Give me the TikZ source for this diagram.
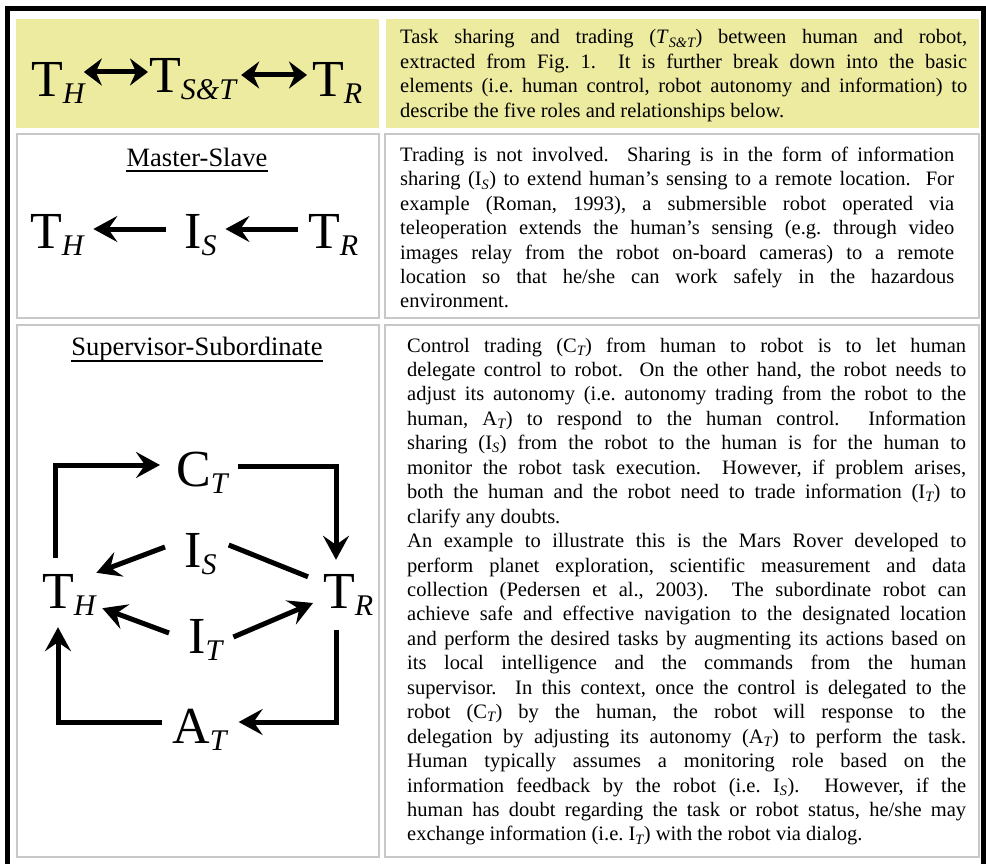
\documentclass[tikz,border=0pt]{standalone}
\usepackage{fontspec}
\setmainfont{Liberation Serif}
\usetikzlibrary{arrows.meta,calc}
\definecolor{cellyellow}{RGB}{237,235,160}
\definecolor{cellgray}{RGB}{200,200,200}
\frenchspacing
\newdimen\linew
\newcommand\lineJ[1]{\hbox to \linew{#1}}
\newcommand\lineL[1]{\hbox to \linew{#1\hfil}}
\newcommand\ts[1]{\textsubscript{\itshape #1}}
\newcommand\bodyf{\fontsize{20.5}{24.4}\selectfont}
\newcommand\bigsb[1]{\raisebox{-7pt}{\fontsize{30}{30}\selectfont\itshape #1}}
\newcommand\sps{\ \ }
\begin{document}
\begin{tikzpicture}[x=1pt,y=-1pt,
  big/.style={font=\fontsize{52}{52}\selectfont, inner sep=0pt, anchor=base west, text height=35pt, text depth=0pt},
  arr/.style={line width=5pt, -{Stealth[length=24pt,width=26pt,inset=9pt]}},
  dbl/.style={line width=5pt, {Stealth[length=18pt,width=27pt,inset=6pt]}-{Stealth[length=18pt,width=27pt,inset=6pt]}},
  plain/.style={line width=5pt},
  yelcell/.style={fill=cellyellow},
  graycell/.style={draw=cellgray, line width=2pt, fill=white},
  title/.style={font=\fontsize{26.5}{30}\selectfont, inner sep=0pt, anchor=base},
  txt/.style={inner sep=0pt, anchor=base west}
]
\useasboundingbox (0,0) rectangle (986,864);
\fill[white] (0,0) rectangle (986,864);
% frame
\draw[line width=5pt] (7.5,864) -- (7.5,8.5) -- (983.5,8.5) -- (983.5,864);
% cells
\fill[yelcell] (16,19) rectangle (379,128);
\fill[yelcell] (386,19) rectangle (979,128);
\draw[graycell] (17,134) rectangle (379,318);
\draw[graycell] (385,134) rectangle (979,318);
\draw[graycell] (17,325) rectangle (379,857);
\draw[graycell] (385,325) rectangle (979,857);

% row 1 diagram
\node[big] (th1) at (31,97) {T\bigsb{H}};
\node[big] (tst) at (149,93) {T\bigsb{S\&T}};
\node[big] (tr1) at (312,97) {T\bigsb{R}};
\draw[dbl] ($(th1.east)+(-1,-7.5)$) -- ($(tst.west)+(-1,-3.5)$);
\draw[dbl] ($(tst.east)+(5,-0.5)$) -- ($(tr1.west)+(-5,-4.5)$);

% row 2 diagram
\node[title] (ms) at (197,167) {Master-Slave};
\draw[line width=1.3pt] ([yshift=-4pt]ms.base west) -- ([yshift=-4pt]ms.base east);
\node[big] (th2) at (30,248) {T\bigsb{H}};
\node[big] (is2) at (184,248) {I\bigsb{S}};
\node[big] (tr2) at (308,248) {T\bigsb{R}};
\draw[arr] ($(is2.west)+(-18,-1.5)$) -- ($(th2.east)+(9.5,-1.5)$);
\draw[arr] ($(tr2.west)+(-10,-1.5)$) -- ($(is2.east)+(8.7,-1.5)$);

% row 3 diagram
\node[title] (ss) at (197,355) {Supervisor-Subordinate};
\draw[line width=1.3pt] ([yshift=-6pt]ss.base west) -- ([yshift=-6pt]ss.base east);
\node[big] (ct) at (176,486) {C\bigsb{T}};
\node[big] (th3) at (42,608) {T\bigsb{H}};
\node[big] (tr3) at (323,608) {T\bigsb{R}};
\node[big] (is3) at (184,567) {I\bigsb{S}};
\node[big] (it3) at (188,653) {I\bigsb{T}};
\node[big] (at) at (172,743) {A\bigsb{T}};
\draw[arr] ($(th3.north west)+(13,-15)$) |- ($(ct.west)+(-16,-3.5)$);
\draw[arr] ($(ct.east)+(10,-2.5)$) -| ($(tr3.north west)+(13,-13)$);
\draw[arr] ($(is3.west)+(-19,-2.5)$) -- ($(th3.north east)+(0.5,0)$);
\draw[plain] ($(is3.east)+(12,-4.5)$) -- ($(tr3.north west)+(-15,4)$);
\draw[arr] ($(it3.west)+(-19,-2.5)$) -- ($(th3.south east)+(6.5,0)$);
\draw[arr] ($(it3.east)+(11,1.5)$) -- ($(tr3.west)+(-10,12.5)$);
\draw[arr] ($(tr3.south west)+(13,22)$) |- ($(at.east)+(12,-3.5)$);
\draw[arr] ($(at.west)+(-10,-3.5)$) -| ($(th3.south west)+(16,19)$);

% texts
\node[txt] (txa) at (400,44) {\bodyf\linew=567pt\vtop{%
\lineJ{Task sharing and trading (\textit{T}\ts{S\&T}) between human and robot,}
\lineJ{extracted from Fig. 1.\sps It is further break down into the basic}
\lineJ{elements (i.e. human control, robot autonomy and information) to}
\lineL{describe the five roles and relationships below.}}};

\node[txt] (txb) at (400,161.5) {\bodyf\linew=554pt\vtop{%
\lineJ{Trading is not involved.\sps Sharing is in the form of information}
\lineJ{sharing (I\ts{S}) to extend human’s sensing to a remote location.\sps For}
\lineJ{example (Roman, 1993), a submersible robot operated via}
\lineJ{teleoperation extends the human’s sensing (e.g. through video}
\lineJ{images relay from the robot on-board cameras) to a remote}
\lineJ{location so that he/she can work safely in the hazardous}
\lineL{environment.}}};

\node[txt] (txc) at (407,352) {\fontsize{20.5}{24.45}\selectfont\linew=559pt\vtop{%
\lineJ{Control trading (C\ts{T}) from human to robot is to let human}
\lineJ{delegate control to robot.\sps On the other hand, the robot needs to}
\lineJ{adjust its autonomy (i.e. autonomy trading from the robot to the}
\lineJ{human, A\ts{T}) to respond to the human control.\sps Information}
\lineJ{sharing (I\ts{S}) from the robot to the human is for the human to}
\lineJ{monitor the robot task execution.\sps However, if problem arises,}
\lineJ{both the human and the robot need to trade information (I\ts{T}) to}
\lineL{clarify any doubts.}
\lineJ{An example to illustrate this is the Mars Rover developed to}
\lineJ{perform planet exploration, scientific measurement and data}
\lineJ{collection (Pedersen et al., 2003).\sps The subordinate robot can}
\lineJ{achieve safe and effective navigation to the designated location}
\lineJ{and perform the desired tasks by augmenting its actions based on}
\lineJ{its local intelligence and the commands from the human}
\lineJ{supervisor.\sps In this context, once the control is delegated to the}
\lineJ{robot (C\ts{T}) by the human, the robot will response to the}
\lineJ{delegation by adjusting its autonomy (A\ts{T}) to perform the task.}
\lineJ{Human typically assumes a monitoring role based on the}
\lineJ{information feedback by the robot (i.e. I\ts{S}).\sps However, if the}
\lineJ{human has doubt regarding the task or robot status, he/she may}
\lineL{exchange information (i.e. I\ts{T}) with the robot via dialog.}}};
\end{tikzpicture}
\end{document}
